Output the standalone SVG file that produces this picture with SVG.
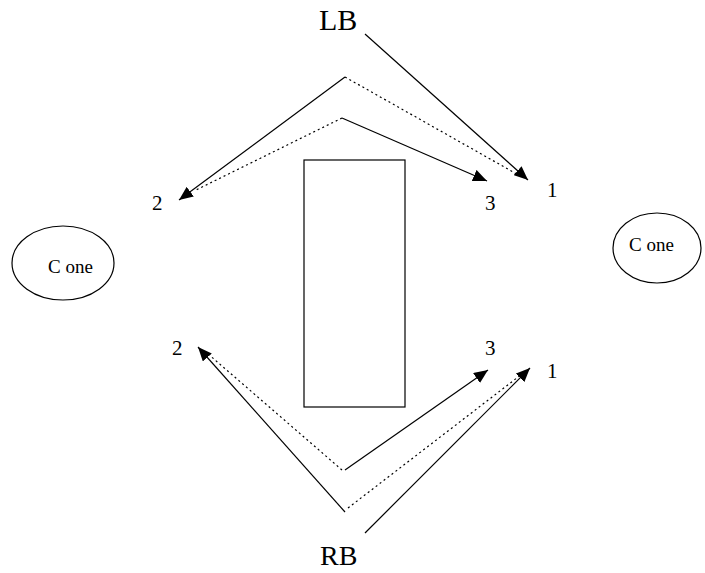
<svg xmlns="http://www.w3.org/2000/svg" width="705" height="573" viewBox="0 0 705 573">
<style>
.t{font-family:"Liberation Serif","Times New Roman",serif;fill:#000}
.s{stroke:#000;stroke-width:1.2;fill:none}
.d{stroke:#000;stroke-width:1.2;fill:none;stroke-dasharray:2 3}
.n{fill:#fff;stroke:#000;stroke-width:1.2}
</style>
<defs>
<marker id="a" viewBox="0 0 14 12" refX="14" refY="6" markerWidth="14" markerHeight="12" markerUnits="userSpaceOnUse" orient="auto">
<path d="M0,0 L14,6 L0,12 Z" fill="#000"/>
</marker>
</defs>
<rect width="705" height="573" fill="#fff"/>
<g id="block"><rect class="n" x="304" y="160" width="101" height="247"/></g>
<g id="coneL"><ellipse class="n" cx="63" cy="263" rx="51" ry="37"/><text class="t" x="48" y="273" font-size="19">C one</text></g>
<g id="coneR"><ellipse class="n" cx="657" cy="248" rx="44" ry="35"/><text class="t" x="629" y="251" font-size="19">C one</text></g>
<g id="labels">
<text class="t" x="319" y="30" font-size="30">LB</text>
<text class="t" x="320" y="565" font-size="28">RB</text>
<text class="t" x="152" y="210" font-size="21">2</text>
<text class="t" x="485" y="210" font-size="21">3</text>
<text class="t" x="547" y="197" font-size="21">1</text>
<text class="t" x="172" y="355" font-size="21">2</text>
<text class="t" x="485" y="355" font-size="21">3</text>
<text class="t" x="547" y="378" font-size="21">1</text>
</g>
<g id="connectors">
<line class="s" x1="365" y1="34" x2="528" y2="180" marker-end="url(#a)"/>
<polyline class="s" points="345,77 179,200" marker-end="url(#a)"/>
<polyline class="d" points="345,77 522,177"/>
<polyline class="d" points="342,118 194,191"/>
<polyline class="s" points="342,118 487,181" marker-end="url(#a)"/>
<line class="s" x1="345" y1="512" x2="198" y2="347" marker-end="url(#a)"/>
<polyline class="d" points="342,470 207,353"/>
<line class="s" x1="345" y1="470" x2="488" y2="370" marker-end="url(#a)"/>
<polyline class="d" points="348,508 522,374"/>
<line class="s" x1="365" y1="533" x2="530" y2="368" marker-end="url(#a)"/>
</g>
</svg>
